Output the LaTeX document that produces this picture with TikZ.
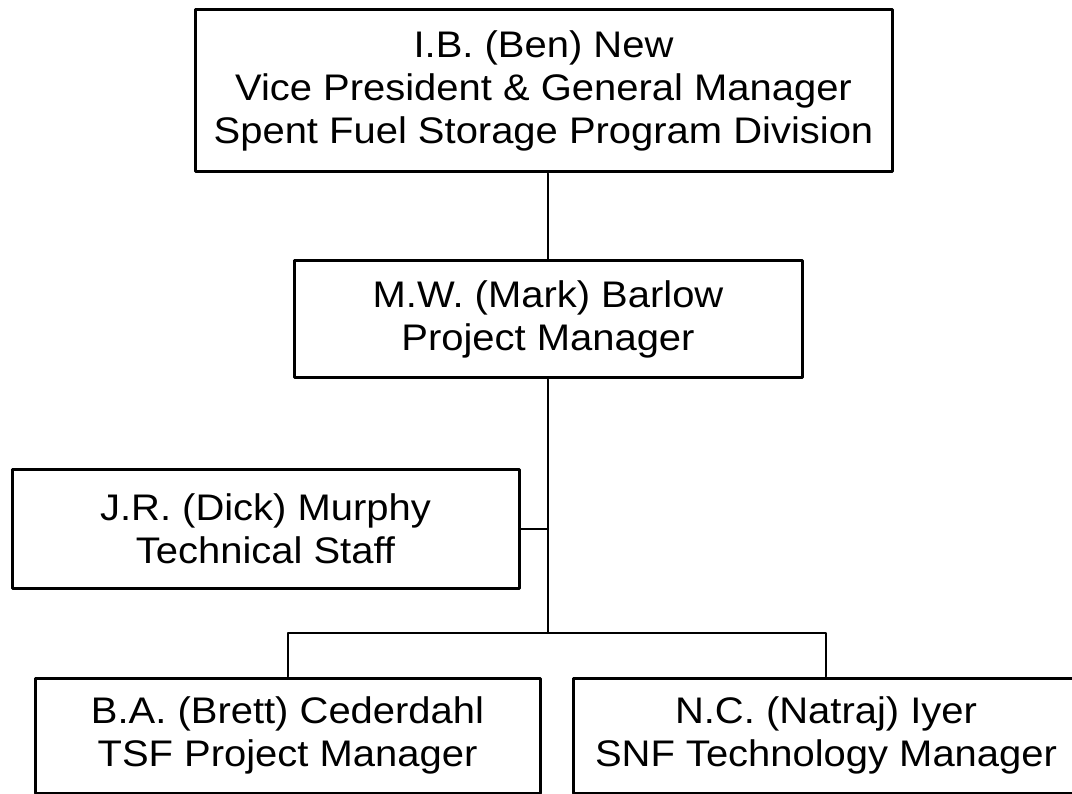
\documentclass[tikz,border=0pt]{standalone}
\usepackage{fontspec}
\setmainfont{Liberation Sans}[FakeStretch=1.08]
\usetikzlibrary{positioning}
\tikzset{
  unit/.style={draw, line width=3pt, align=center, inner sep=0pt,
    font=\fontsize{37}{43}\selectfont},
  link/.style={line width=2pt}
}
\begin{document}
\begin{tikzpicture}[x=1pt, y=-1pt, line join=round, line cap=round]
				\useasboundingbox (0,0) rectangle (1072,794);
				% boxes
				\node[unit, minimum width=697pt, minimum height=162pt] (new) at (543.5,91)
					{I.B. (Ben) New\\Vice President \& General Manager\\Spent Fuel Storage Program Division};
				\node[unit, minimum width=508pt, minimum height=117pt] (barlow) at (548,319.5)
					{M.W. (Mark) Barlow\\Project Manager};
				\node[unit, minimum width=507pt, minimum height=118pt] (murphy) at (265.5,529)
					{J.R. (Dick) Murphy\\Technical Staff};
				\node[unit, minimum width=505pt, minimum height=115pt] (cederdahl) at (287.5,735.5)
					{B.A. (Brett) Cederdahl\\TSF Project Manager};
				\node[unit, minimum width=506pt, minimum height=115pt] (iyer) at (826,735.5)
					{N.C. (Natraj) Iyer\\SNF Technology Manager};
				\coordinate (fork) at (548,633);
				% lines
				\draw[link] (barlow.north) -- (barlow.north |- new.south);
				\draw[link] (barlow.south) -- (fork);
				\draw[link] (murphy.east) -- (murphy.east -| fork);
				\draw[link] (cederdahl.north) |- (fork) -| (iyer.north);
\end{tikzpicture}
\end{document}
